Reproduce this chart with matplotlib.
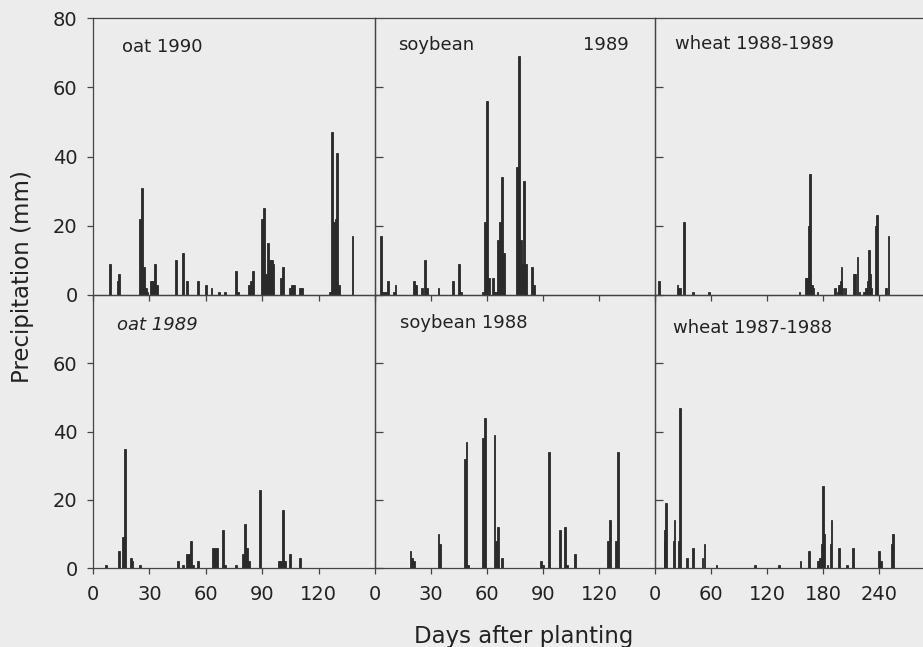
import matplotlib.pyplot as plt

# daily precipitation (mm)
oat90_day = [9, 13, 14, 25, 26, 27, 28, 29, 31, 32, 33, 34, 44, 48, 50, 56, 60, 63, 67, 70,
             76, 77, 83, 84, 85, 90, 91, 92, 93, 94, 95, 96, 100, 101, 105, 106, 107, 110, 111,
             126, 127, 128, 129, 130, 131, 138]
oat90_mm = [9, 4, 6, 22, 31, 8, 2, 1, 4, 4, 9, 3, 10, 12, 4, 4, 3, 2, 1, 1,
            7, 1, 3, 4, 7, 22, 25, 6, 15, 10, 10, 9, 5, 8, 2, 3, 3, 2, 2,
            1, 47, 21, 22, 41, 3, 17]

soy89_day = [3, 4, 5, 6, 7, 10, 11, 21, 22, 25, 27, 28, 34, 42, 45, 46, 58, 59, 60, 61,
             63, 64, 65, 66, 67, 68, 69, 76, 77, 78, 79, 80, 81, 84, 85]
soy89_mm = [17, 1, 1, 1, 4, 1, 3, 4, 3, 2, 10, 2, 2, 4, 9, 1, 1, 21, 56, 5,
            5, 1, 1, 16, 21, 34, 12, 37, 69, 16, 9, 33, 9, 8, 3]

wht89_day = [4, 24, 25, 27, 31, 41, 58, 155, 162, 163, 165, 166, 168, 170, 174, 193, 196,
             197, 199, 200, 202, 204, 213, 214, 217, 219, 224, 226, 228, 229, 231, 232,
             237, 238, 247, 248, 250]
wht89_mm = [4, 3, 2, 2, 21, 1, 1, 1, 5, 5, 20, 35, 3, 2, 1, 2, 1,
            3, 4, 8, 2, 2, 6, 6, 11, 1, 1, 2, 4, 13, 6, 2,
            20, 23, 2, 2, 17]

oat89_day = [7, 14, 16, 17, 20, 21, 25, 45, 48, 50, 51, 52, 53, 56, 64, 65, 66, 69, 70, 76,
             80, 81, 82, 83, 89, 99, 100, 101, 102, 105, 110]
oat89_mm = [1, 5, 9, 35, 3, 2, 1, 2, 1, 4, 4, 8, 1, 2, 6, 6, 6, 11, 1, 1,
            4, 13, 6, 2, 23, 2, 2, 17, 2, 4, 3]

soy88_day = [19, 20, 21, 34, 35, 48, 49, 50, 58, 59, 64, 65, 66, 68, 89, 90, 93, 99, 102,
             103, 107, 125, 126, 129, 130]
soy88_mm = [5, 3, 2, 10, 7, 32, 37, 1, 38, 44, 39, 8, 12, 3, 2, 1, 34, 11, 12,
            1, 4, 8, 14, 8, 34]

wht88_day = [10, 11, 12, 20, 21, 26, 27, 34, 41, 51, 53, 66, 107, 133, 156, 165, 174, 176,
             177, 179, 180, 181, 185, 188, 189, 197, 206, 212, 240, 242, 254, 255]
wht88_mm = [8, 11, 19, 8, 14, 8, 47, 3, 6, 3, 7, 1, 1, 1, 2, 5, 2, 2,
            3, 7, 24, 10, 1, 7, 14, 6, 1, 6, 5, 2, 7, 10]

ticks_150 = [0, 30, 60, 90, 120]
ticks_300 = [0, 60, 120, 180, 240]

W, H = 923, 647
bg = '#ececec'
ink = '#2a2a2a'

fig = plt.figure(figsize=(W / 100, H / 100), dpi=100)
fig.patch.set_facecolor(bg)


def box(x0, y0, x1, y1):
    return [x0 / W, 1 - y1 / H, (x1 - x0) / W, (y1 - y0) / H]


# (left px, right px, x max in days, ticks, bar width in days)
cols = [(93, 375, 150, ticks_150, 1.0), (375, 655, 150, ticks_150, 1.0),
        (655, 935, 300, ticks_300, 1.7)]
rows = [(18, 295), (295, 568)]
data = [[(oat90_day, oat90_mm), (soy89_day, soy89_mm), (wht89_day, wht89_mm)],
        [(oat89_day, oat89_mm), (soy88_day, soy88_mm), (wht88_day, wht88_mm)]]

for r, (y0, y1) in enumerate(rows):
    for c, (x0, x1, xmax, xt, bw) in enumerate(cols):
        ax = fig.add_axes(box(x0, y0, x1, y1))
        ax.set_facecolor('none')
        days, mm = data[r][c]
        ax.bar(days, mm, width=bw, color=ink, edgecolor=ink, linewidth=0.6, align='center')
        ax.set_xlim(0, xmax)
        ax.set_ylim(0, 80)
        for s in ax.spines.values():
            s.set_color('#444444')
            s.set_linewidth(0.9)
        ax.set_xticks(xt)
        ax.tick_params(axis='x', direction='out', length=4, width=0.9, color='#444444',
                       pad=8, labelsize=14, labelcolor='#222222', labelbottom=(r == 1))
        if c == 0:
            ax.set_yticks([0, 20, 40, 60, 80] if r == 0 else [0, 20, 40, 60])
            ax.tick_params(axis='y', direction='out', length=4, width=0.9, color='#444444',
                           pad=7, labelsize=14, labelcolor='#222222')
        else:
            ax.set_yticks([0, 20, 40, 60])
            ax.tick_params(axis='y', direction='in', length=6, width=0.9, color='#444444',
                           labelleft=False)

title_kw = dict(fontsize=13, color='#222222', va='center', ha='left')
fig.text(122 / W, 1 - 47 / H, 'oat 1990', **title_kw)
fig.text(398 / W, 1 - 45 / H, 'soybean', **title_kw)
fig.text(583 / W, 1 - 45 / H, '1989', **title_kw)
fig.text(675 / W, 1 - 44 / H, 'wheat 1988-1989', **title_kw)
fig.text(117 / W, 1 - 325 / H, 'oat 1989', style='italic', **title_kw)
fig.text(400 / W, 1 - 323 / H, 'soybean 1988', **title_kw)
fig.text(673 / W, 1 - 328 / H, 'wheat 1987-1988', **title_kw)

fig.text(524 / W, 1 - 636 / H, 'Days after planting', fontsize=16.5, color='#222222',
         ha='center', va='center')
fig.text(23 / W, 1 - 277 / H, 'Precipitation (mm)', fontsize=16.5, color='#222222',
         ha='center', va='center', rotation=90)

fig.savefig('out.png', dpi=100, facecolor=bg)
